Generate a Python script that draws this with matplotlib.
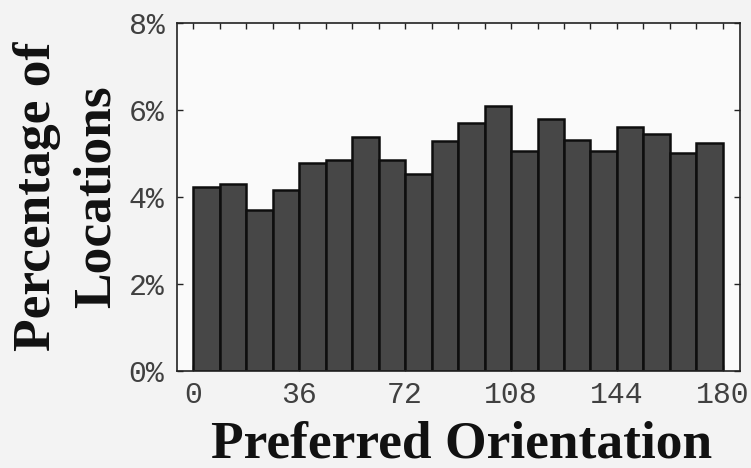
import matplotlib
matplotlib.use("Agg")
import matplotlib.pyplot as plt
import numpy as np

# ---- data ----
bin_edges = list(range(0, 181, 9))
percentages = [4.23, 4.30, 3.69, 4.17, 4.79, 4.86, 5.39, 4.84, 4.53, 5.28,
               5.70, 6.09, 5.05, 5.80, 5.30, 5.05, 5.62, 5.45, 5.01, 5.25]
x_ticks = [0, 36, 72, 108, 144, 180]
y_ticks = [0, 2, 4, 6, 8]
y_tick_labels = ["0%", "2%", "4%", "6%", "8%"]
x_label = "Preferred Orientation"
y_label_lines = ["Percentage of", "Locations"]

W, H = 751, 468
fig = plt.figure(figsize=(W / 100, H / 100), dpi=100, facecolor="#f3f3f3")
ax = fig.add_axes([177 / W, (H - 371) / H, (740 - 177) / W, (371 - 23) / H])
ax.set_facecolor("#fafafa")

lefts = bin_edges[:-1]
widths = [b - a for a, b in zip(bin_edges[:-1], bin_edges[1:])]
ax.bar(lefts, percentages, width=widths, align="edge",
       color="#474747", edgecolor="#0e0e0e", linewidth=1.8, zorder=2)

ax.set_xlim(-5.5, 185.8)
ax.set_ylim(0, 8)

mono = ["Liberation Mono", "DejaVu Sans Mono"]
ax.set_xticks(x_ticks)
ax.set_xticklabels([str(t) for t in x_ticks], fontfamily=mono, fontsize=21.5, color="#404040")
ax.set_yticks(y_ticks)
ax.set_yticklabels(y_tick_labels, fontfamily=mono, fontsize=21.5, color="#404040")
ax.set_xticks(bin_edges, minor=True)
ax.tick_params(axis="both", which="both", direction="in", length=4, width=1.0,
               top=True, right=True, color="#222222")
ax.tick_params(axis="x", which="major", pad=7)
ax.tick_params(axis="y", which="major", pad=9)
ax.tick_params(axis="x", which="minor", bottom=False)
for s in ax.spines.values():
    s.set_linewidth(1.2)
    s.set_color("#222222")

serif = ["Liberation Serif", "DejaVu Serif"]
fig.text(462 / W, (H - 458) / H, x_label, fontfamily=serif, fontweight="bold",
         fontsize=38.5, ha="center", va="baseline", color="#111111")
for xpx, line in zip([50, 110], y_label_lines):
    fig.text(xpx / W, (H - 196.5) / H, line, fontfamily=serif, fontweight="bold",
             fontsize=38.5, rotation=90, rotation_mode="anchor",
             ha="center", va="baseline", color="#111111")

fig.savefig("out.png", dpi=100, facecolor=fig.get_facecolor())
